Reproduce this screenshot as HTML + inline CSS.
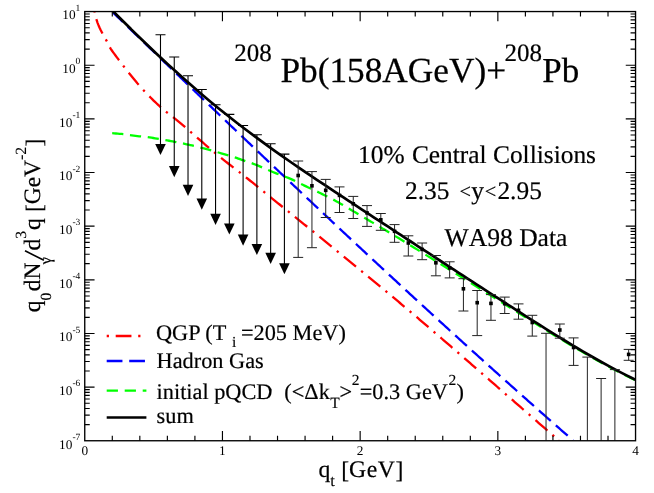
<!DOCTYPE html><html><head><meta charset="utf-8"><style>html,body{margin:0;padding:0;background:#fff}body{width:654px;height:493px;position:relative;overflow:hidden}</style></head><body><svg width="654" height="493" viewBox="0 0 654 493" style="position:absolute;left:0;top:0;font-family:'Liberation Serif',serif;text-rendering:geometricPrecision;will-change:transform">
<defs><clipPath id="cp"><rect x="84.75" y="11.55" width="550.80" height="429.20"/></clipPath></defs>
<rect x="0" y="0" width="654" height="493" fill="#fff"/>
<g clip-path="url(#cp)" fill="none">
<path d="M94.60 11.70L94.79 12.51M96.34 19.07L96.91 20.96L97.56 22.82L98.27 24.65L99.03 26.47L99.82 28.27L100.66 30.05L101.56 31.81L102.48 33.54M105.80 39.42L106.35 40.40L106.89 41.39M109.88 47.44L110.93 49.10L112.04 50.73L113.18 52.33L114.34 53.92L115.52 55.50L116.70 57.08L117.88 58.65L119.07 60.22M123.15 65.60L123.83 66.49L124.52 67.38M128.73 72.66L129.96 74.19L131.20 75.73L132.43 77.26L133.67 78.79L134.91 80.32L136.16 81.84L137.42 83.36L138.69 84.86M143.18 89.90L143.95 90.72L144.72 91.54M149.40 96.40L150.79 97.80L152.19 99.18L153.59 100.56L155.01 101.93L156.44 103.28L157.88 104.62L159.33 105.95L160.80 107.27M165.98 111.60L166.86 112.29L167.75 112.99M173.08 117.13L174.62 118.35L176.16 119.58L177.68 120.82L179.20 122.08L180.71 123.34L182.21 124.62L183.70 125.90L185.19 127.19M190.29 131.61L191.14 132.35L191.98 133.09M197.07 137.53L198.55 138.83L200.03 140.12L201.52 141.42L203.00 142.71L204.49 144.00L205.98 145.28L207.47 146.57L208.97 147.85M214.12 152.21L214.99 152.93L215.86 153.64M221.10 157.90L222.64 159.12L224.18 160.35L225.73 161.57L227.28 162.78L228.83 163.99L230.38 165.20L231.94 166.40L233.50 167.61M238.84 171.74L239.73 172.43L240.61 173.12M245.92 177.29L247.46 178.52L248.99 179.75L250.53 180.98L252.06 182.22L253.59 183.46L255.11 184.71L256.64 185.95L258.17 187.19M263.41 191.45L264.28 192.16L265.15 192.87M270.40 197.11L271.93 198.35L273.47 199.58L275.00 200.82L276.53 202.05L278.07 203.29L279.60 204.52L281.14 205.75L282.67 206.99M287.93 211.22L288.81 211.92L289.68 212.63M294.94 216.87L296.47 218.10L298.00 219.34L299.53 220.57L301.07 221.81L302.60 223.05L304.13 224.29L305.66 225.52L307.19 226.76M312.43 231.01L313.31 231.72L314.18 232.43M319.42 236.69L320.94 237.94L322.47 239.18L323.99 240.43L325.52 241.67L327.04 242.92L328.56 244.17L330.09 245.41L331.61 246.66M336.83 250.94L337.70 251.65L338.57 252.37M343.79 256.64L345.32 257.89L346.84 259.13L348.37 260.38L349.89 261.62L351.41 262.87L352.94 264.12L354.46 265.36L355.99 266.61M361.21 270.89L362.08 271.60L362.95 272.31M368.16 276.60L369.69 277.85L371.21 279.10L372.73 280.35L374.24 281.60L375.76 282.86L377.28 284.11L378.80 285.36L380.32 286.62M385.51 290.93L386.38 291.64L387.24 292.36M392.43 296.68L393.94 297.94L395.45 299.21L396.96 300.47L398.47 301.73L399.98 303.00L401.49 304.26L403.00 305.53L404.50 306.80M409.66 311.15L410.52 311.87L411.38 312.60M416.53 316.97L418.03 318.24L419.53 319.52L421.03 320.79L422.53 322.07L424.03 323.35L425.52 324.63L427.02 325.91L428.51 327.19M433.63 331.59L434.49 332.32L435.34 333.05M440.45 337.46L441.94 338.75L443.43 340.03L444.92 341.32L446.41 342.61L447.90 343.89L449.39 345.18L450.88 346.47L452.37 347.76M457.47 352.18L458.32 352.91L459.17 353.65M464.27 358.07L465.76 359.36L467.25 360.65L468.73 361.94L470.22 363.24L471.71 364.53L473.19 365.82L474.68 367.11L476.16 368.40M481.26 372.83L482.10 373.57L482.95 374.31M488.04 378.74L489.53 380.03L491.01 381.33L492.50 382.62L493.98 383.91L495.46 385.21L496.95 386.50L498.43 387.80L499.92 389.09M505.00 393.53L505.85 394.27L506.70 395.01M511.78 399.44L513.27 400.74L514.75 402.03L516.23 403.33L517.72 404.62L519.20 405.92L520.68 407.21L522.16 408.51L523.65 409.80M528.73 414.24L529.58 414.98L530.43 415.72M535.51 420.17L536.99 421.46L538.48 422.76L539.96 424.05L541.44 425.34L542.93 426.64L544.41 427.93L545.89 429.23L547.38 430.52M552.45 434.97L553.30 435.71L554.14 436.46M559.16 440.97L558.70 440.75L558.50 440.70" stroke="#f00" stroke-width="2.3" stroke-linejoin="round"/>
<path d="M113.00 12.45L114.42 13.81L115.83 15.18L117.25 16.55L118.67 17.92L120.09 19.29L121.50 20.66L122.92 22.03M127.77 26.72L129.19 28.09L130.61 29.46L132.02 30.82L133.44 32.19L134.86 33.56L136.27 34.93L137.69 36.29L139.11 37.66M143.96 42.35L145.38 43.71L146.80 45.08L148.22 46.45L149.63 47.81L151.05 49.18L152.47 50.54L153.89 51.91L155.30 53.28M160.17 57.96L161.58 59.32L163.00 60.69L164.42 62.05L165.84 63.42L167.26 64.78L168.68 66.15L170.10 67.51L171.51 68.88M176.38 73.56L177.80 74.92L179.22 76.29L180.64 77.65L182.06 79.01L183.48 80.38L184.90 81.74L186.32 83.11L187.74 84.47M192.61 89.14L194.03 90.51L195.45 91.87L196.87 93.23L198.29 94.59L199.71 95.96L201.13 97.32L202.55 98.68L203.98 100.04M208.85 104.71L210.27 106.07L211.70 107.44L213.12 108.80L214.54 110.16L215.96 111.52L217.38 112.88L218.81 114.24L220.23 115.60M225.11 120.27L226.53 121.63L227.96 122.99L229.38 124.35L230.81 125.71L232.23 127.06L233.65 128.42L235.08 129.78L236.50 131.14M241.39 135.80L242.81 137.16L244.24 138.52L245.66 139.87L247.09 141.23L248.51 142.59L249.94 143.95L251.37 145.30L252.79 146.66M257.68 151.31L259.11 152.67L260.54 154.03L261.96 155.38L263.39 156.74L264.82 158.09L266.25 159.45L267.67 160.81L269.10 162.16M274.00 166.81L275.43 168.16L276.86 169.52L278.29 170.87L279.72 172.22L281.15 173.58L282.57 174.93L284.00 176.28L285.43 177.64M290.34 182.28L291.77 183.63L293.20 184.98L294.63 186.33L296.06 187.68L297.49 189.04L298.93 190.39L300.36 191.74L301.79 193.09M306.70 197.72L308.13 199.07L309.57 200.42L311.00 201.77L312.43 203.12L313.87 204.47L315.30 205.82L316.73 207.17L318.17 208.52M323.09 213.14L324.52 214.49L325.96 215.84L327.39 217.18L328.83 218.53L330.26 219.88L331.70 221.23L333.13 222.57L334.57 223.92M339.50 228.53L340.93 229.88L342.37 231.22L343.81 232.57L345.25 233.91L346.69 235.26L348.12 236.60L349.56 237.95L351.00 239.29M355.94 243.90L357.38 245.24L358.82 246.58L360.26 247.92L361.70 249.27L363.14 250.61L364.58 251.95L366.02 253.29L367.46 254.63M372.40 259.23L373.85 260.57L375.29 261.91L376.73 263.25L378.17 264.59L379.62 265.93L381.06 267.26L382.50 268.60L383.95 269.94M388.90 274.53L390.35 275.86L391.79 277.20L393.24 278.54L394.68 279.87L396.13 281.21L397.57 282.55L399.02 283.88L400.47 285.22M405.43 289.79L406.88 291.13L408.33 292.46L409.77 293.79L411.22 295.13L412.67 296.46L414.12 297.79L415.57 299.13L417.02 300.46M421.99 305.02L423.44 306.35L424.89 307.68L426.34 309.02L427.80 310.35L429.25 311.67L430.70 313.00L432.15 314.33L433.61 315.66M438.59 320.22L440.04 321.54L441.50 322.87L442.95 324.20L444.40 325.52L445.86 326.85L447.32 328.18L448.77 329.50L450.23 330.83M455.22 335.37L456.68 336.69L458.13 338.02L459.59 339.34L461.05 340.66L462.51 341.99L463.97 343.31L465.43 344.63L466.88 345.95M471.89 350.48L473.35 351.80L474.81 353.12L476.27 354.44L477.73 355.76L479.19 357.08L480.66 358.40L482.12 359.72L483.58 361.03M488.60 365.55L490.06 366.87L491.53 368.18L492.99 369.50L494.46 370.81L495.92 372.13L497.39 373.44L498.85 374.76L500.32 376.07M505.35 380.57L506.81 381.89L508.28 383.20L509.75 384.51L511.22 385.82L512.69 387.13L514.16 388.44L515.63 389.75L517.10 391.06M522.14 395.55L523.61 396.86L525.08 398.17L526.55 399.48L528.02 400.78L529.50 402.09L530.97 403.40L532.44 404.70L533.92 406.01M538.97 410.48L540.45 411.78L541.92 413.09L543.40 414.39L544.87 415.69L546.35 417.00L547.83 418.30L549.31 419.60L550.78 420.90M555.85 425.36L557.33 426.66L558.81 427.96L560.29 429.25L561.77 430.55L563.25 431.85L564.73 433.15L566.21 434.44L567.70 435.74M572.78 440.18L573.00 440.37" stroke="#00f" stroke-width="2.3" stroke-linejoin="round"/>
<path d="M112.20 133.20L114.06 133.35L115.92 133.49L117.77 133.64L119.63 133.80L121.49 133.96L123.34 134.13M129.97 135.16L131.82 135.39L133.67 135.62L135.52 135.84L137.37 136.06L139.22 136.27L141.07 136.48M147.74 137.18L149.58 137.45L151.43 137.73L153.27 138.01L155.11 138.31L156.95 138.60L158.79 138.90M165.39 140.08L167.22 140.42L169.06 140.75L170.89 141.09L172.72 141.43L174.55 141.77L176.38 142.12M182.95 143.48L184.77 143.87L186.59 144.27L188.41 144.66L190.23 145.06L192.05 145.47L193.87 145.88M200.37 147.54L202.18 148.00L203.99 148.44L205.79 148.89L207.60 149.34L209.41 149.80L211.21 150.28M217.62 152.25L219.41 152.76L221.20 153.27L223.00 153.77L224.79 154.27L226.59 154.78L228.38 155.29M234.77 157.32L236.53 157.94L238.29 158.56L240.04 159.19L241.79 159.82L243.55 160.44L245.31 161.05M251.68 163.17L253.43 163.80L255.17 164.47L256.90 165.16L258.62 165.88L260.33 166.61L262.04 167.35M268.19 170.03L269.90 170.77L271.62 171.50L273.34 172.21L275.07 172.91L276.80 173.59L278.54 174.25M284.83 176.59L286.57 177.25L288.30 177.94L290.03 178.65L291.73 179.40L293.43 180.17L295.11 180.97M301.12 183.95L302.79 184.78L304.46 185.60L306.14 186.41L307.82 187.21L309.51 188.01L311.19 188.80M317.27 191.65L318.95 192.46L320.62 193.27L322.29 194.10L323.97 194.92L325.64 195.75L327.31 196.57M333.28 199.63L334.92 200.51L336.56 201.40L338.19 202.30L339.81 203.22L341.42 204.15L343.03 205.08M348.81 208.50L350.41 209.45L352.01 210.41L353.61 211.37L355.21 212.32L356.81 213.28L358.41 214.23M364.19 217.64L365.79 218.58L367.40 219.53L369.00 220.48L370.61 221.42L372.21 222.37L373.82 223.32M379.59 226.74L381.19 227.69L382.79 228.65L384.39 229.60L385.99 230.56L387.59 231.51L389.19 232.47M394.94 235.92L396.53 236.89L398.13 237.85L399.72 238.82L401.31 239.78L402.91 240.75L404.50 241.72M410.22 245.23L411.80 246.20L413.39 247.18L414.98 248.16L416.56 249.14L418.15 250.12L419.73 251.10M425.43 254.63L427.02 255.61L428.60 256.60L430.18 257.58L431.76 258.57L433.34 259.56L434.92 260.54M440.61 264.10L442.19 265.08L443.77 266.07L445.35 267.06L446.93 268.04L448.51 269.03L450.09 270.02M455.78 273.58L457.36 274.57L458.94 275.56L460.51 276.55L462.09 277.54L463.67 278.53L465.25 279.53M470.93 283.10L472.50 284.09L474.08 285.08L475.66 286.08L477.23 287.07L478.81 288.06L480.39 289.05M486.07 292.61L487.65 293.60L489.23 294.59L490.81 295.58L492.39 296.57L493.97 297.56L495.55 298.54M501.23 302.11L502.81 303.10L504.39 304.09L505.96 305.09L507.54 306.08L509.12 307.07L510.70 308.06M516.37 311.64L517.95 312.63L519.53 313.62L521.11 314.61L522.69 315.59L524.27 316.58L525.85 317.57M531.54 321.12L533.12 322.10L534.71 323.09L536.29 324.07L537.87 325.05L539.46 326.03L541.04 327.01M546.75 330.54L548.33 331.52L549.92 332.50L551.51 333.47L553.09 334.45L554.68 335.42L556.27 336.39M562.01 339.87L563.61 340.83L565.21 341.79L566.81 342.74L568.41 343.70L570.01 344.65L571.61 345.60M577.39 349.00L579.00 349.94L580.61 350.88L582.22 351.82L583.84 352.75L585.45 353.68L587.06 354.61M592.89 357.94L594.51 358.86L596.13 359.77L597.76 360.68L599.39 361.58L601.02 362.48L602.66 363.38M608.56 366.56L610.20 367.44L611.85 368.32L613.50 369.19L615.15 370.05L616.80 370.92L618.45 371.78M624.42 374.84L626.08 375.67L627.75 376.51L629.42 377.33L631.09 378.16L632.76 378.98L634.44 379.80" stroke="#0f0" stroke-width="2.3" stroke-linejoin="round"/>
<path d="M113.00 11.14 C114.48 12.62 118.91 17.09 121.86 20.04 C124.82 22.99 127.77 25.93 130.73 28.83 C133.68 31.74 136.64 34.64 139.59 37.50 C142.55 40.37 145.50 43.22 148.46 46.04 C151.41 48.87 154.37 51.67 157.32 54.44 C160.28 57.22 163.23 59.98 166.19 62.71 C169.14 65.43 172.10 68.14 175.05 70.82 C178.01 73.50 180.96 76.15 183.92 78.78 C186.87 81.40 189.82 84.00 192.78 86.58 C195.73 89.15 198.69 91.69 201.64 94.21 C204.60 96.72 207.55 99.21 210.51 101.66 C213.46 104.12 216.42 106.55 219.37 108.94 C222.33 111.34 225.28 113.71 228.24 116.05 C231.19 118.39 234.15 120.70 237.10 122.98 C240.06 125.27 243.01 127.53 245.97 129.76 C248.92 132.00 251.88 134.21 254.83 136.40 C257.79 138.59 260.74 140.76 263.69 142.90 C266.65 145.05 269.60 147.18 272.56 149.29 C275.51 151.40 278.47 153.49 281.42 155.57 C284.38 157.64 287.33 159.70 290.29 161.74 C293.24 163.79 296.20 165.82 299.15 167.84 C302.11 169.86 305.06 171.86 308.02 173.86 C310.97 175.85 313.93 177.84 316.88 179.81 C319.84 181.79 322.79 183.76 325.75 185.72 C328.70 187.68 331.66 189.63 334.61 191.58 C337.56 193.54 340.52 195.48 343.47 197.42 C346.43 199.37 349.38 201.30 352.34 203.24 C355.29 205.18 358.25 207.12 361.20 209.06 C364.16 211.00 367.11 212.94 370.07 214.87 C373.02 216.81 375.98 218.75 378.93 220.69 C381.89 222.62 384.84 224.56 387.80 226.49 C390.75 228.43 393.71 230.36 396.66 232.30 C399.62 234.23 402.57 236.17 405.53 238.10 C408.48 240.03 411.44 241.97 414.39 243.90 C417.34 245.83 420.30 247.76 423.25 249.69 C426.21 251.62 429.16 253.55 432.12 255.47 C435.07 257.40 438.03 259.33 440.98 261.25 C443.94 263.18 446.89 265.10 449.85 267.03 C452.80 268.95 455.76 270.87 458.71 272.79 C461.67 274.71 464.62 276.63 467.58 278.55 C470.53 280.47 473.49 282.38 476.44 284.30 C479.40 286.21 482.35 288.13 485.31 290.04 C488.26 291.95 491.21 293.86 494.17 295.77 C497.12 297.68 500.08 299.59 503.03 301.49 C505.99 303.40 508.94 305.30 511.90 307.20 C514.85 309.10 517.81 311.00 520.76 312.90 C523.72 314.80 526.67 316.69 529.63 318.57 C532.58 320.46 535.54 322.34 538.49 324.21 C541.45 326.08 544.40 327.95 547.36 329.80 C550.31 331.65 553.27 333.49 556.22 335.32 C559.18 337.15 562.13 338.97 565.08 340.77 C568.04 342.57 570.99 344.36 573.95 346.13 C576.90 347.89 579.86 349.65 582.81 351.38 C585.77 353.11 588.72 354.83 591.68 356.52 C594.63 358.21 597.59 359.88 600.54 361.52 C603.50 363.17 606.45 364.79 609.41 366.38 C612.36 367.98 615.32 369.55 618.27 371.09 C621.23 372.63 624.18 374.14 627.14 375.62 C630.09 377.10 634.52 379.25 636.00 379.98" stroke="#000" stroke-width="2.7"/>
<path d="M155.49 34.80H165.49M160.49 34.80V146.50" stroke="#000" stroke-width="1.10"/>
<path d="M155.19 143.90L165.79 143.90L160.49 155.00Z" fill="#000" stroke="none"/>
<path d="M169.25 57.00H179.25M174.25 57.00V168.70" stroke="#000" stroke-width="1.10"/>
<path d="M168.95 166.10L179.56 166.10L174.25 177.20Z" fill="#000" stroke="none"/>
<path d="M183.02 75.70H193.02M188.02 75.70V187.40" stroke="#000" stroke-width="1.10"/>
<path d="M182.72 184.80L193.32 184.80L188.02 195.90Z" fill="#000" stroke="none"/>
<path d="M196.79 89.50H206.79M201.79 89.50V201.20" stroke="#000" stroke-width="1.10"/>
<path d="M196.49 198.60L207.09 198.60L201.79 209.70Z" fill="#000" stroke="none"/>
<path d="M210.56 104.70H220.56M215.56 104.70V216.40" stroke="#000" stroke-width="1.10"/>
<path d="M210.26 213.80L220.86 213.80L215.56 224.90Z" fill="#000" stroke="none"/>
<path d="M224.34 114.40H234.34M229.34 114.40V226.10" stroke="#000" stroke-width="1.10"/>
<path d="M224.03 223.50L234.64 223.50L229.34 234.60Z" fill="#000" stroke="none"/>
<path d="M238.10 125.50H248.10M243.10 125.50V237.20" stroke="#000" stroke-width="1.10"/>
<path d="M237.80 234.60L248.40 234.60L243.10 245.70Z" fill="#000" stroke="none"/>
<path d="M251.88 134.80H261.88M256.88 134.80V246.50" stroke="#000" stroke-width="1.10"/>
<path d="M251.57 243.90L262.18 243.90L256.88 255.00Z" fill="#000" stroke="none"/>
<path d="M265.64 143.70H275.64M270.64 143.70V255.40" stroke="#000" stroke-width="1.10"/>
<path d="M265.34 252.80L275.94 252.80L270.64 263.90Z" fill="#000" stroke="none"/>
<path d="M279.41 154.10H289.41M284.41 154.10V265.80" stroke="#000" stroke-width="1.10"/>
<path d="M279.11 263.20L289.71 263.20L284.41 274.30Z" fill="#000" stroke="none"/>
<path d="M293.19 161.00H303.19M293.19 257.40H303.19M298.19 161.00V257.40" stroke="#222" stroke-width="1.00"/>
<rect x="296.38" y="173.70" width="3.6" height="3.6" fill="#000"/>
<path d="M306.95 171.60H316.95M306.95 247.70H316.95M311.95 171.60V247.70" stroke="#222" stroke-width="1.00"/>
<rect x="310.15" y="184.00" width="3.6" height="3.6" fill="#000"/>
<path d="M320.72 179.40H330.72M320.72 217.50H330.72M325.72 179.40V217.50" stroke="#222" stroke-width="1.00"/>
<rect x="323.92" y="188.50" width="3.6" height="3.6" fill="#000"/>
<path d="M334.50 186.90H344.50M334.50 212.50H344.50M339.50 186.90V212.50" stroke="#222" stroke-width="1.00"/>
<rect x="337.69" y="193.60" width="3.6" height="3.6" fill="#000"/>
<path d="M348.26 196.40H358.26M348.26 218.50H358.26M353.26 196.40V218.50" stroke="#222" stroke-width="1.00"/>
<rect x="351.46" y="202.00" width="3.6" height="3.6" fill="#000"/>
<path d="M362.03 205.60H372.03M362.03 226.40H372.03M367.03 205.60V226.40" stroke="#222" stroke-width="1.00"/>
<rect x="365.23" y="211.10" width="3.6" height="3.6" fill="#000"/>
<path d="M375.80 213.50H385.80M375.80 230.30H385.80M380.80 213.50V230.30" stroke="#222" stroke-width="1.00"/>
<rect x="379.00" y="218.00" width="3.6" height="3.6" fill="#000"/>
<path d="M389.57 224.60H399.57M389.57 242.30H399.57M394.57 224.60V242.30" stroke="#222" stroke-width="1.00"/>
<rect x="392.77" y="229.50" width="3.6" height="3.6" fill="#000"/>
<path d="M403.34 235.80H413.34M403.34 256.00H413.34M408.34 235.80V256.00" stroke="#222" stroke-width="1.00"/>
<rect x="406.54" y="241.20" width="3.6" height="3.6" fill="#000"/>
<path d="M417.12 243.00H427.12M417.12 259.70H427.12M422.12 243.00V259.70" stroke="#222" stroke-width="1.00"/>
<rect x="420.31" y="247.60" width="3.6" height="3.6" fill="#000"/>
<path d="M430.88 255.50H440.88M430.88 275.80H440.88M435.88 255.50V275.80" stroke="#222" stroke-width="1.00"/>
<rect x="434.08" y="261.00" width="3.6" height="3.6" fill="#000"/>
<path d="M444.65 261.80H454.65M444.65 277.90H454.65M449.65 261.80V277.90" stroke="#222" stroke-width="1.00"/>
<rect x="447.85" y="266.10" width="3.6" height="3.6" fill="#000"/>
<path d="M458.42 278.70H468.42M458.42 311.00H468.42M463.42 278.70V311.00" stroke="#222" stroke-width="1.00"/>
<rect x="461.62" y="287.00" width="3.6" height="3.6" fill="#000"/>
<path d="M472.19 290.50H482.19M472.19 335.60H482.19M477.19 290.50V335.60" stroke="#222" stroke-width="1.00"/>
<rect x="475.39" y="300.90" width="3.6" height="3.6" fill="#000"/>
<path d="M485.96 294.60H495.96M485.96 320.30H495.96M490.96 294.60V320.30" stroke="#222" stroke-width="1.00"/>
<rect x="489.16" y="301.60" width="3.6" height="3.6" fill="#000"/>
<path d="M499.73 297.10H509.73M499.73 313.50H509.73M504.73 297.10V313.50" stroke="#222" stroke-width="1.00"/>
<rect x="502.93" y="301.90" width="3.6" height="3.6" fill="#000"/>
<path d="M513.50 303.90H523.50M513.50 319.20H523.50M518.50 303.90V319.20" stroke="#222" stroke-width="1.00"/>
<rect x="516.70" y="308.50" width="3.6" height="3.6" fill="#000"/>
<path d="M527.27 315.30H537.27M527.27 336.10H537.27M532.27 315.30V336.10" stroke="#222" stroke-width="1.00"/>
<rect x="530.48" y="320.70" width="3.6" height="3.6" fill="#000"/>
<path d="M541.04 333.30H551.04M546.04 333.30V440.75" stroke="#222" stroke-width="1.00"/>
<path d="M554.82 324.00H564.82M554.82 338.20H564.82M559.82 324.00V338.20" stroke="#222" stroke-width="1.00"/>
<rect x="558.02" y="328.20" width="3.6" height="3.6" fill="#000"/>
<path d="M568.58 337.90H578.58M568.58 365.40H578.58M573.58 337.90V365.40" stroke="#222" stroke-width="1.00"/>
<rect x="571.78" y="345.70" width="3.6" height="3.6" fill="#000"/>
<path d="M582.36 357.10H592.36M587.36 357.10V440.75" stroke="#222" stroke-width="1.00"/>
<path d="M596.12 378.50H606.12M601.12 378.50V440.75" stroke="#222" stroke-width="1.00"/>
<path d="M609.89 369.60H619.89M614.89 369.60V440.75" stroke="#222" stroke-width="1.00"/>
<path d="M623.66 349.40H633.66M623.66 360.30H633.66M628.66 349.40V360.30" stroke="#222" stroke-width="1.00"/>
<rect x="626.87" y="352.60" width="3.6" height="3.6" fill="#000"/>
</g>
<rect x="84.75" y="11.55" width="550.80" height="429.20" fill="none" stroke="#000" stroke-width="1.35"/>
<path d="M112.29 440.75v-5.00M112.29 11.55v5.00M139.83 440.75v-5.00M139.83 11.55v5.00M167.37 440.75v-5.00M167.37 11.55v5.00M194.91 440.75v-5.00M194.91 11.55v5.00M222.45 440.75v-9.80M222.45 11.55v9.80M249.99 440.75v-5.00M249.99 11.55v5.00M277.53 440.75v-5.00M277.53 11.55v5.00M305.07 440.75v-5.00M305.07 11.55v5.00M332.61 440.75v-5.00M332.61 11.55v5.00M360.15 440.75v-9.80M360.15 11.55v9.80M387.69 440.75v-5.00M387.69 11.55v5.00M415.23 440.75v-5.00M415.23 11.55v5.00M442.77 440.75v-5.00M442.77 11.55v5.00M470.31 440.75v-5.00M470.31 11.55v5.00M497.85 440.75v-9.80M497.85 11.55v9.80M525.39 440.75v-5.00M525.39 11.55v5.00M552.93 440.75v-5.00M552.93 11.55v5.00M580.47 440.75v-5.00M580.47 11.55v5.00M608.01 440.75v-5.00M608.01 11.55v5.00M84.75 65.20h9.80M635.55 65.20h-9.80M84.75 49.05h5.00M635.55 49.05h-5.00M84.75 39.60h5.00M635.55 39.60h-5.00M84.75 32.90h5.00M635.55 32.90h-5.00M84.75 27.70h5.00M635.55 27.70h-5.00M84.75 23.45h5.00M635.55 23.45h-5.00M84.75 19.86h5.00M635.55 19.86h-5.00M84.75 16.75h5.00M635.55 16.75h-5.00M84.75 14.00h5.00M635.55 14.00h-5.00M84.75 118.85h9.80M635.55 118.85h-9.80M84.75 102.70h5.00M635.55 102.70h-5.00M84.75 93.25h5.00M635.55 93.25h-5.00M84.75 86.55h5.00M635.55 86.55h-5.00M84.75 81.35h5.00M635.55 81.35h-5.00M84.75 77.10h5.00M635.55 77.10h-5.00M84.75 73.51h5.00M635.55 73.51h-5.00M84.75 70.40h5.00M635.55 70.40h-5.00M84.75 67.65h5.00M635.55 67.65h-5.00M84.75 172.50h9.80M635.55 172.50h-9.80M84.75 156.35h5.00M635.55 156.35h-5.00M84.75 146.90h5.00M635.55 146.90h-5.00M84.75 140.20h5.00M635.55 140.20h-5.00M84.75 135.00h5.00M635.55 135.00h-5.00M84.75 130.75h5.00M635.55 130.75h-5.00M84.75 127.16h5.00M635.55 127.16h-5.00M84.75 124.05h5.00M635.55 124.05h-5.00M84.75 121.30h5.00M635.55 121.30h-5.00M84.75 226.15h9.80M635.55 226.15h-9.80M84.75 210.00h5.00M635.55 210.00h-5.00M84.75 200.55h5.00M635.55 200.55h-5.00M84.75 193.85h5.00M635.55 193.85h-5.00M84.75 188.65h5.00M635.55 188.65h-5.00M84.75 184.40h5.00M635.55 184.40h-5.00M84.75 180.81h5.00M635.55 180.81h-5.00M84.75 177.70h5.00M635.55 177.70h-5.00M84.75 174.95h5.00M635.55 174.95h-5.00M84.75 279.80h9.80M635.55 279.80h-9.80M84.75 263.65h5.00M635.55 263.65h-5.00M84.75 254.20h5.00M635.55 254.20h-5.00M84.75 247.50h5.00M635.55 247.50h-5.00M84.75 242.30h5.00M635.55 242.30h-5.00M84.75 238.05h5.00M635.55 238.05h-5.00M84.75 234.46h5.00M635.55 234.46h-5.00M84.75 231.35h5.00M635.55 231.35h-5.00M84.75 228.60h5.00M635.55 228.60h-5.00M84.75 333.45h9.80M635.55 333.45h-9.80M84.75 317.30h5.00M635.55 317.30h-5.00M84.75 307.85h5.00M635.55 307.85h-5.00M84.75 301.15h5.00M635.55 301.15h-5.00M84.75 295.95h5.00M635.55 295.95h-5.00M84.75 291.70h5.00M635.55 291.70h-5.00M84.75 288.11h5.00M635.55 288.11h-5.00M84.75 285.00h5.00M635.55 285.00h-5.00M84.75 282.25h5.00M635.55 282.25h-5.00M84.75 387.10h9.80M635.55 387.10h-9.80M84.75 370.95h5.00M635.55 370.95h-5.00M84.75 361.50h5.00M635.55 361.50h-5.00M84.75 354.80h5.00M635.55 354.80h-5.00M84.75 349.60h5.00M635.55 349.60h-5.00M84.75 345.35h5.00M635.55 345.35h-5.00M84.75 341.76h5.00M635.55 341.76h-5.00M84.75 338.65h5.00M635.55 338.65h-5.00M84.75 335.90h5.00M635.55 335.90h-5.00M84.75 424.60h5.00M635.55 424.60h-5.00M84.75 415.15h5.00M635.55 415.15h-5.00M84.75 408.45h5.00M635.55 408.45h-5.00M84.75 403.25h5.00M635.55 403.25h-5.00M84.75 399.00h5.00M635.55 399.00h-5.00M84.75 395.41h5.00M635.55 395.41h-5.00M84.75 392.30h5.00M635.55 392.30h-5.00M84.75 389.55h5.00M635.55 389.55h-5.00" stroke="#000" stroke-width="1.15" fill="none"/>
<text x="84.75" y="455.2" font-size="13.3" text-anchor="middle">0</text>
<text x="222.45" y="455.2" font-size="13.3" text-anchor="middle">1</text>
<text x="360.15" y="455.2" font-size="13.3" text-anchor="middle">2</text>
<text x="497.85" y="455.2" font-size="13.3" text-anchor="middle">3</text>
<text x="635.55" y="455.2" font-size="13.3" text-anchor="middle">4</text>
<text x="80.3" y="19.35" font-size="13.3" text-anchor="end">10<tspan font-size="9.5" dy="-8.6">1</tspan></text>
<text x="80.3" y="73.00" font-size="13.3" text-anchor="end">10<tspan font-size="9.5" dy="-8.6">0</tspan></text>
<text x="80.3" y="126.65" font-size="13.3" text-anchor="end">10<tspan font-size="9.5" dy="-8.6">-1</tspan></text>
<text x="80.3" y="180.30" font-size="13.3" text-anchor="end">10<tspan font-size="9.5" dy="-8.6">-2</tspan></text>
<text x="80.3" y="233.95" font-size="13.3" text-anchor="end">10<tspan font-size="9.5" dy="-8.6">-3</tspan></text>
<text x="80.3" y="287.60" font-size="13.3" text-anchor="end">10<tspan font-size="9.5" dy="-8.6">-4</tspan></text>
<text x="80.3" y="341.25" font-size="13.3" text-anchor="end">10<tspan font-size="9.5" dy="-8.6">-5</tspan></text>
<text x="80.3" y="394.90" font-size="13.3" text-anchor="end">10<tspan font-size="9.5" dy="-8.6">-6</tspan></text>
<text x="80.3" y="448.55" font-size="13.3" text-anchor="end">10<tspan font-size="9.5" dy="-8.6">-7</tspan></text>
<text x="234.30" y="61.30" font-size="25.00" stroke="#000" stroke-width="0.20" >208</text>
<text x="280.40" y="82.00" font-size="35.30" stroke="#000" stroke-width="0.25" >Pb(158AGeV)+</text>
<text x="504.60" y="61.30" font-size="25.00" stroke="#000" stroke-width="0.20" >208</text>
<text x="542.20" y="82.20" font-size="35.00" stroke="#000" stroke-width="0.25" >Pb</text>
<text x="358.10" y="163.00" font-size="25.40" stroke="#000" stroke-width="0.20" >10%</text>
<text x="411.90" y="163.00" font-size="25.40" stroke="#000" stroke-width="0.20" >Central Collisions</text>
<text x="405.00" y="198.50" font-size="25.40" stroke="#000" stroke-width="0.20" >2.35</text>
<text x="459.50" y="197.50" font-size="20.30" stroke="#000" stroke-width="0.20" >&lt;</text>
<text x="471.20" y="198.50" font-size="25.40" stroke="#000" stroke-width="0.20" >y</text>
<text x="484.70" y="197.50" font-size="20.30" stroke="#000" stroke-width="0.20" >&lt;</text>
<text x="497.40" y="198.50" font-size="25.40" stroke="#000" stroke-width="0.20" >2.95</text>
<text x="444.50" y="245.60" font-size="25.60" stroke="#000" stroke-width="0.20" style="font-kerning:none">WA98 Data</text>
<path d="M106.7 336.0H146.4" stroke="#f00" stroke-width="2.3" stroke-dasharray="2.25 6.75 15.75 6.75" fill="none"/>
<path d="M106.7 361.0H146.4" stroke="#00f" stroke-width="2.3" stroke-dasharray="15.75 6.75" fill="none"/>
<path d="M106.7 390.7H146.4" stroke="#0f0" stroke-width="2.3" stroke-dasharray="11.25 6.75" fill="none"/>
<path d="M106.7 417.5H146.4" stroke="#000" stroke-width="2.7" fill="none"/>
<text x="156.00" y="339.60" font-size="22.30" stroke="#000" stroke-width="0.20" >QGP (T</text>
<text x="232.00" y="347.30" font-size="15.50" stroke="#000" stroke-width="0.12" >i</text>
<text x="241.00" y="339.60" font-size="22.30" stroke="#000" stroke-width="0.20" >=205 MeV)</text>
<text x="156.60" y="368.20" font-size="22.30" stroke="#000" stroke-width="0.20" >Hadron Gas</text>
<text x="156.60" y="398.70" font-size="22.30" stroke="#000" stroke-width="0.20" >initial pQCD</text>
<text x="284.30" y="398.70" font-size="22.30" stroke="#000" stroke-width="0.20" >(&lt;Δk</text>
<text x="330.30" y="407.90" font-size="15.50" stroke="#000" stroke-width="0.12" >T</text>
<text x="339.50" y="398.70" font-size="22.30" stroke="#000" stroke-width="0.20" >&gt;</text>
<text x="351.70" y="385.10" font-size="15.50" stroke="#000" stroke-width="0.12" >2</text>
<text x="359.80" y="398.70" font-size="22.30" stroke="#000" stroke-width="0.20" >=0.3 GeV</text>
<text x="448.60" y="385.10" font-size="15.50" stroke="#000" stroke-width="0.12" >2</text>
<text x="456.60" y="398.70" font-size="22.30" stroke="#000" stroke-width="0.20" >)</text>
<text x="156.60" y="422.90" font-size="22.30" stroke="#000" stroke-width="0.20" >sum</text>
<text x="318.50" y="476.80" font-size="23.70" stroke="#000" stroke-width="0.20" >q</text>
<text x="330.30" y="486.40" font-size="16.50" stroke="#000" stroke-width="0.12" >t</text>
<text x="341.20" y="478.30" font-size="23.70" stroke="#000" stroke-width="0.20" >[</text>
<text x="349.10" y="476.80" font-size="23.70" stroke="#000" stroke-width="0.20" letter-spacing="0.5">GeV</text>
<text x="395.50" y="478.30" font-size="23.70" stroke="#000" stroke-width="0.20" >]</text>
<g transform="translate(40.3,312.3) rotate(-90)">
<text x="0.00" y="0.00" font-size="23.50" stroke="#000" stroke-width="0.20" >q</text>
<text x="11.80" y="10.20" font-size="15.50" stroke="#000" stroke-width="0.12" >0</text>
<text x="21.00" y="0.00" font-size="23.50" stroke="#000" stroke-width="0.20" >dN</text>
<text x="47.80" y="10.20" font-size="17.00" stroke="#000" stroke-width="0.12" >γ</text>
<path d="M52 3.6L61.5 -15.3" stroke="#000" stroke-width="1.6" fill="none"/>
<text x="61.80" y="0.00" font-size="23.50" stroke="#000" stroke-width="0.20" >d</text>
<text x="73.60" y="-14.10" font-size="15.50" stroke="#000" stroke-width="0.12" >3</text>
<text x="82.30" y="0.00" font-size="23.50" stroke="#000" stroke-width="0.20" >q</text>
<text x="100.20" y="1.70" font-size="23.50" stroke="#000" stroke-width="0.20" >[</text>
<text x="108.00" y="0.00" font-size="23.50" stroke="#000" stroke-width="0.20" >GeV</text>
<text x="152.50" y="-14.20" font-size="15.50" stroke="#000" stroke-width="0.12" >-2</text>
<text x="165.70" y="1.70" font-size="23.50" stroke="#000" stroke-width="0.20" >]</text>
</g>
</svg></body></html>
